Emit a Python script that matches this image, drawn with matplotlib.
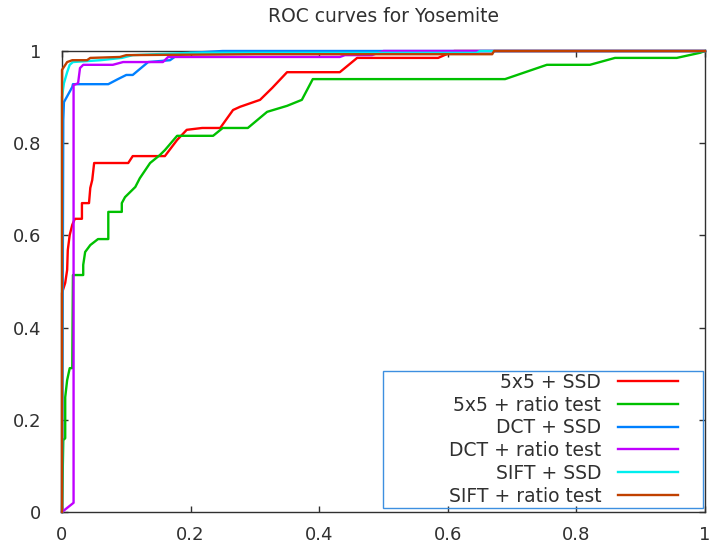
import matplotlib
matplotlib.use("Agg")
import matplotlib.pyplot as plt
from matplotlib.patches import Rectangle

# ROC curve points (false positive rate, true positive rate)
ssd5_x = [0, 0, 0.005, 0.008, 0.009, 0.012, 0.016, 0.02, 0.031, 0.031, 0.042, 0.044, 0.047,
          0.05, 0.103, 0.11, 0.16, 0.179, 0.194, 0.218, 0.246, 0.266, 0.277, 0.308, 0.327,
          0.35, 0.432, 0.459, 0.585, 0.603, 0.61, 1.0]
ssd5_y = [0, 0.475, 0.497, 0.525, 0.568, 0.601, 0.623, 0.636, 0.636, 0.67, 0.67, 0.703, 0.72,
          0.757, 0.757, 0.772, 0.772, 0.807, 0.829, 0.833, 0.833, 0.872, 0.879, 0.894, 0.92,
          0.954, 0.954, 0.985, 0.985, 0.996, 1.0, 1.0]

ratio5_x = [0, 0.002, 0.005, 0.005, 0.008, 0.012, 0.016, 0.017, 0.033, 0.033, 0.036, 0.044,
            0.056, 0.072, 0.072, 0.093, 0.093, 0.098, 0.114, 0.121, 0.137, 0.152, 0.16, 0.179,
            0.235, 0.25, 0.289, 0.319, 0.35, 0.373, 0.39, 0.689, 0.754, 0.821, 0.86, 0.956,
            0.992, 1.0]
ratio5_y = [0, 0.156, 0.16, 0.249, 0.286, 0.312, 0.312, 0.514, 0.514, 0.536, 0.564, 0.579,
            0.592, 0.592, 0.651, 0.651, 0.67, 0.683, 0.705, 0.724, 0.757, 0.774, 0.785, 0.816,
            0.816, 0.833, 0.833, 0.868, 0.881, 0.894, 0.939, 0.939, 0.97, 0.97, 0.985, 0.985,
            0.996, 1.0]

dct_ssd_x = [0, 0.002, 0.003, 0.016, 0.017, 0.072, 0.087, 0.1, 0.11, 0.134, 0.168, 0.179,
             0.2, 0.25, 1.0]
dct_ssd_y = [0, 0.85, 0.889, 0.922, 0.928, 0.928, 0.939, 0.948, 0.948, 0.976, 0.98, 0.991,
             0.996, 1.0, 1.0]

dct_ratio_x = [0, 0.018, 0.018, 0.025, 0.028, 0.033, 0.079, 0.095, 0.157, 0.165, 0.432, 0.44,
               0.482, 0.5, 1.0]
dct_ratio_y = [0, 0.02, 0.926, 0.93, 0.963, 0.97, 0.97, 0.976, 0.976, 0.987, 0.987, 0.991,
               0.991, 1.0, 1.0]

sift_ssd_x = [0, 0, 0.003, 0.008, 0.012, 0.017, 0.06, 0.093, 0.11, 0.2, 0.645, 0.65, 1.0]
sift_ssd_y = [0, 0.9, 0.93, 0.954, 0.97, 0.976, 0.98, 0.985, 0.991, 0.996, 0.996, 1.0, 1.0]

sift_ratio_x = [0, 0, 0.008, 0.016, 0.039, 0.044, 0.09, 0.1, 0.3, 0.669, 0.672, 1.0]
sift_ratio_y = [0, 0.959, 0.976, 0.98, 0.98, 0.985, 0.987, 0.991, 0.993, 0.993, 1.0, 1.0]

labels = ['5x5 + SSD', '5x5 + ratio test', 'DCT + SSD', 'DCT + ratio test',
          'SIFT + SSD', 'SIFT + ratio test']
colors = ['#ff0000', '#00c000', '#0080ff', '#c000ff', '#00eeee', '#c04000']
curves = [(ssd5_x, ssd5_y), (ratio5_x, ratio5_y), (dct_ssd_x, dct_ssd_y),
          (dct_ratio_x, dct_ratio_y), (sift_ssd_x, sift_ssd_y), (sift_ratio_x, sift_ratio_y)]

plt.rcParams['font.family'] = ['DejaVu Sans']
fig = plt.figure(figsize=(7.11, 5.5), dpi=100)
ax = fig.add_axes([0.0872, 0.0691, 0.9044, 0.8382])

for (xs, ys), lab, col in zip(curves, labels, colors):
    ax.plot(xs, ys, color=col, lw=1.7, label=lab, zorder=3, clip_on=False)

ax.set_xlim(0, 1)
ax.set_ylim(0, 1)
ax.set_xticks([0, 0.2, 0.4, 0.6, 0.8, 1])
ax.set_xticklabels(['0', '0.2', '0.4', '0.6', '0.8', '1'])
ax.set_yticks([0, 0.2, 0.4, 0.6, 0.8, 1])
ax.set_yticklabels(['0', '0.2', '0.4', '0.6', '0.8', '1'])
ax.tick_params(direction='in', length=4.5, width=1, top=True, right=True,
               labelsize=13, labelcolor='#303030', color='#303030')
ax.tick_params(axis='y', pad=15)
ax.tick_params(axis='x', pad=10)
for sp in ax.spines.values():
    sp.set_color('#303030')
    sp.set_linewidth(1)

ax.set_title('ROC curves for Yosemite', fontsize=13.5, color='#303030', pad=21)

# legend box (gnuplot style, wide frame with right-aligned labels)
ax.add_patch(Rectangle((0.4992, 0.0087), 0.4976, 0.297, transform=ax.transAxes,
                       fill=False, edgecolor='#3d8fe0', lw=1, zorder=4))
leg = ax.legend(loc='lower right', bbox_to_anchor=(0.958, 0.014), frameon=False,
                markerfirst=False, fontsize=13.5, handlelength=3.2, handletextpad=0.9,
                labelspacing=0.2, borderpad=0, borderaxespad=0)
for t in leg.get_texts():
    t.set_color('#303030')
for col in leg._legend_handle_box.get_children():
    col.align = 'right'

fig.savefig('out.png', dpi=100)
